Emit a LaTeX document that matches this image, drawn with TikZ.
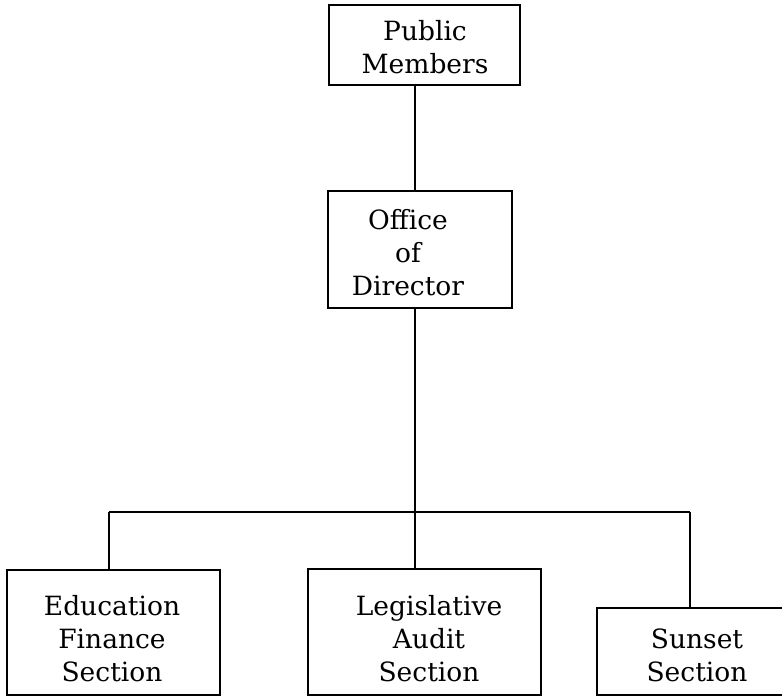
\documentclass[tikz,border=0pt]{standalone}
\usepackage{fontspec}
\setmainfont{DejaVu Serif}
\begin{document}
\begin{tikzpicture}[x=1pt,y=-1pt,
  box/.style={draw=black, line width=1.6pt, rectangle, inner sep=0pt},
  lbl/.style={align=center, font=\fontsize{26.5}{33}\selectfont, inner sep=0pt},
  conn/.style={draw=black, line width=1.3pt}]
\useasboundingbox (0,0) rectangle (782,698);
\clip (0,0) rectangle (782,698);
% boxes
\node[box, minimum width=191pt, minimum height=80pt] (pm) at (424.5,45) {};
\node[lbl] (pmt) at (425,47) {Public\\Members};
\node[box, minimum width=184pt, minimum height=117pt] (od) at (420,249.5) {};
\node[lbl] (odt) at (408,253) {Office\\of\\Director};
\node[box, minimum width=213pt, minimum height=125pt] (ef) at (113.5,632.5) {};
\node[lbl] (eft) at (112,639) {Education\\Finance\\Section};
\node[box, minimum width=233pt, minimum height=126pt] (la) at (424.5,632) {};
\node[lbl] (lat) at (429,639) {Legislative\\Audit\\Section};
\node[box, minimum width=200pt, minimum height=87pt] (ss) at (697,651.5) {};
\node[lbl] (sst) at (697,655) {Sunset\\Section};
% connectors
\coordinate (j) at (415,512);
\coordinate (jl) at (109,512);
\coordinate (jr) at (690,512);
\draw[conn] (pm.south -| j) -- (od.north -| j);
\draw[conn] (od.south -| j) -- (j);
\draw[conn] (jl) -- (jr);
\draw[conn] (jl) -- (jl |- ef.north);
\draw[conn] (j) -- (j |- la.north);
\draw[conn] (jr) -- (jr |- ss.north);
\end{tikzpicture}
\end{document}
